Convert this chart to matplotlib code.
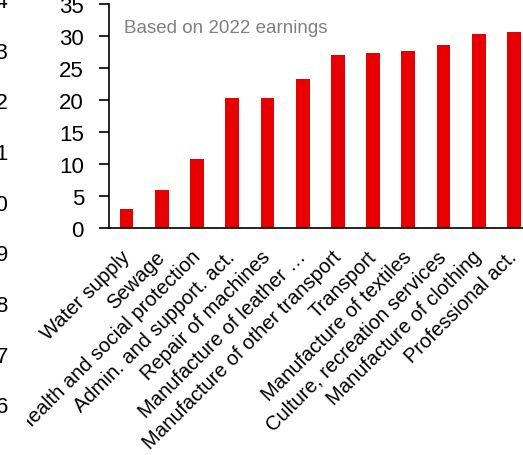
import matplotlib
matplotlib.use("Agg")
import matplotlib.pyplot as plt
from matplotlib.transforms import Bbox, Affine2D

plt.rcParams['font.family'] = ['Liberation Sans', 'DejaVu Sans']

# Sector shares (based on 2022 earnings)
sectors = [
    "Water supply",
    "Sewage",
    "Health and social protection",
    "Admin. and support. act.",
    "Repair of machines",
    "Manufacture of leather \u2026",
    "Manufacture of other transport",
    "Transport",
    "Manufacture of textiles",
    "Culture, recreation services",
    "Manufacture of clothing",
    "Professional act.",
]
values = [3.0, 6.0, 10.9, 20.3, 20.4, 23.4, 27.0, 27.4, 27.7, 28.6, 30.3, 30.6]
y_ticks = [0, 5, 10, 15, 20, 25, 30, 35]

# Neighbouring panel's axis (only its last digits fall inside the frame)
side_ticks = [6, 7, 8, 9, 10, 11, 12, 13, 14]

W, H = 523, 456
fig = plt.figure(figsize=(W / 100, H / 100), dpi=100)

# Main bar panel
left_px, right_px = 109, 531.6
bottom_px, top_px = H - 229.4, H - 5.2
ax = fig.add_axes([left_px / W, bottom_px / H,
                   (right_px - left_px) / W, (top_px - bottom_px) / H])
x = range(len(sectors))
ax.bar(x, values, width=0.39, color='#e80000', zorder=2)
ax.set_xlim(-0.5, len(sectors) - 0.5)
ax.set_ylim(0, 35)
ax.set_yticks(y_ticks)
ax.set_yticklabels([str(t) for t in y_ticks], fontsize=16)
ax.set_xticks(list(x))
ax.set_xticklabels(sectors, rotation=45, ha='right', va='center',
                   rotation_mode='anchor', fontsize=14.5)
ax.tick_params(axis='y', direction='out', length=7, width=1.2, pad=11,
               colors='black')
ax.tick_params(axis='x', length=0, pad=18)
for s in ('top', 'right'):
    ax.spines[s].set_visible(False)
for s in ('left', 'bottom'):
    ax.spines[s].set_linewidth(1.2)
    ax.spines[s].set_color('black')

# Category labels are clipped at the panel's left border
label_clip = Bbox([[27, 0], [W, H]])
for lbl in ax.get_xticklabels():
    lbl.set_clip_box(label_clip)
    lbl.set_clip_on(True)

# Note in the upper-left corner (pixel coordinates, origin top-left)
px = Affine2D().scale(1, -1).translate(0, H)
fig.text(124, 33, "Based on 2022 earnings", transform=px,
         fontsize=13.5, color='#808080', va='baseline', ha='left')

# Neighbouring panel's y-axis labels at the left edge
ax2 = fig.add_axes([8.5 / W, 0, 0.02, 1])
ax2.set_ylim(5.0, 13.9)
ax2.set_yticks(side_ticks)
ax2.set_yticklabels([str(t) for t in side_ticks], fontsize=16)
ax2.set_xticks([])
ax2.tick_params(axis='y', length=0, pad=0)
ax2.set_frame_on(False)
ax2.patch.set_visible(False)

fig.savefig("out.png", dpi=100)
